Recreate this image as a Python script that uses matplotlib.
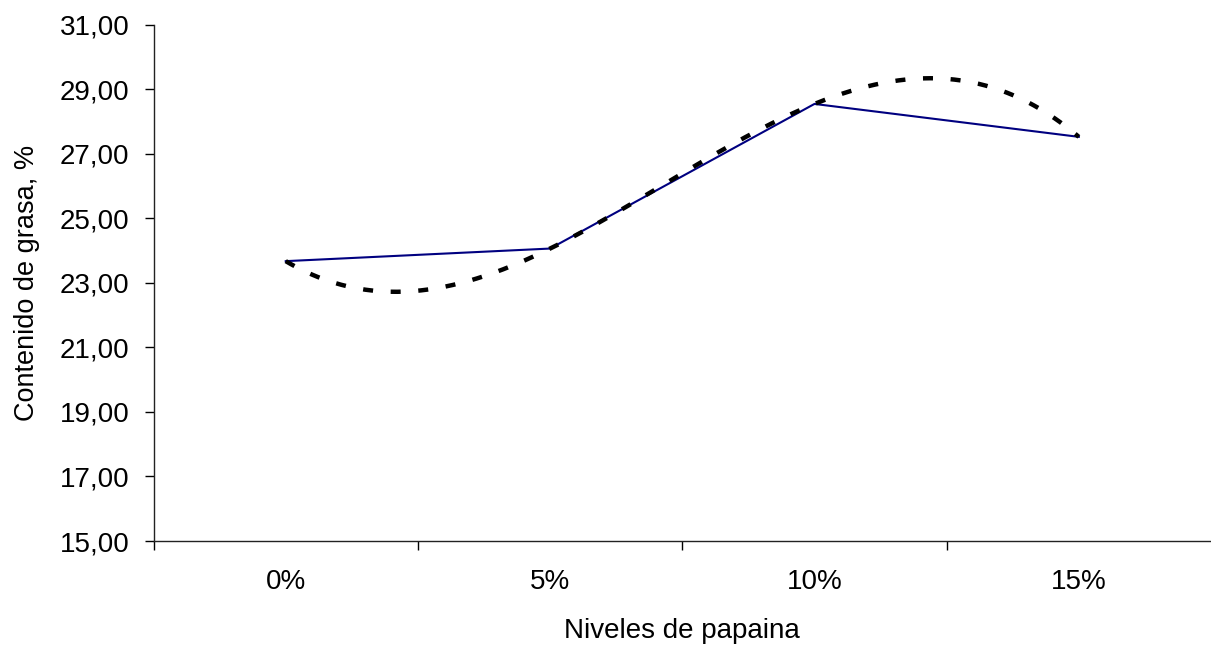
import matplotlib

matplotlib.use("Agg")
import matplotlib.pyplot as plt
import numpy as np
from matplotlib.ticker import FixedLocator, FuncFormatter

# Datos
niveles = ["0%", "5%", "10%", "15%"]
grasa = [23.67, 24.06, 28.54, 27.52]

plt.rcParams["font.family"] = ["Liberation Sans", "DejaVu Sans"]
plt.rcParams["lines.scale_dashes"] = False

fig = plt.figure(figsize=(12.11, 6.47), dpi=100)
ax = fig.add_axes([0.1268, 0.1638, 0.8732, 0.7983])

x = np.arange(len(niveles))
ax.plot(x, grasa, color="#000080", lw=1.5, solid_joinstyle="miter")

# Tendencia polinomica de orden 3
coef = np.polyfit(x, grasa, 3)
xs = np.linspace(x[0], x[-1], 300)
ax.plot(xs, np.polyval(coef, xs), color="black", lw=3.2,
        dashes=(7.2, 12.7), dash_capstyle="butt")

ax.set_xlim(-0.5, len(niveles) - 0.5)
ax.set_ylim(15, 31)
ax.set_yticks(np.arange(15, 31.1, 2))
ax.yaxis.set_major_formatter(FuncFormatter(lambda v, _: f"{v:.2f}".replace(".", ",")))

ax.xaxis.set_major_locator(FixedLocator(np.arange(-0.5, len(niveles) - 0.5, 1)))
ax.xaxis.set_major_formatter(FuncFormatter(lambda v, _: ""))
ax.set_xticks(x, minor=True)
ax.set_xticklabels(niveles, minor=True)
ax.tick_params(axis="x", which="minor", length=0, pad=20, labelsize=20)
ax.tick_params(axis="x", which="major", length=6.5, width=1, direction="out")
ax.tick_params(axis="y", length=6.5, width=1, pad=11, labelsize=20)

for s in ["top", "right"]:
    ax.spines[s].set_visible(False)
for s in ["left", "bottom"]:
    ax.spines[s].set_color("#222222")
    ax.spines[s].set_linewidth(1)

ax.set_xlabel("Niveles de papaina", fontsize=20, labelpad=17)
ax.set_ylabel("Contenido de grasa, %", fontsize=19.5, labelpad=14)

fig.savefig("out.png", dpi=100)
